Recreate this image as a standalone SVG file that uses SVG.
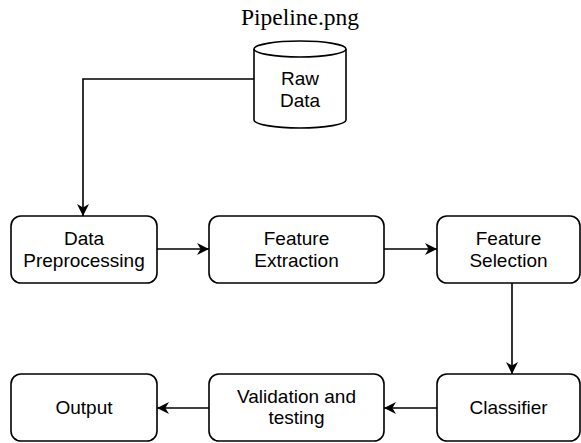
<svg xmlns="http://www.w3.org/2000/svg" width="581" height="443" viewBox="0 0 581 443">
  <style>
    .box { fill: #ffffff; stroke: #000000; stroke-width: 1.6; }
    .lbl { font-family: "Liberation Sans", Arial, sans-serif; font-size: 19px; fill: #000000; text-anchor: middle; }
    .title { font-family: "Liberation Serif", "Times New Roman", serif; font-size: 23.5px; fill: #000000; text-anchor: middle; }
    .edge { fill: none; stroke: #000000; stroke-width: 1.6; marker-end: url(#arrow); }
  </style>
  <defs>
    <marker id="arrow" viewBox="0 0 10 10" refX="10" refY="5" markerWidth="12" markerHeight="12" markerUnits="userSpaceOnUse" orient="auto">
      <path d="M0,0 L10,5 L0,10 L3,5 Z" fill="#000000"/>
    </marker>
  </defs>
  <rect width="581" height="443" fill="#ffffff"/>

  <text class="title" x="300" y="25">Pipeline.png</text>

  <g id="raw-data">
    <path class="box" d="M254,49 A46,8 0 0 1 346,49 L346,120 A46,8 0 0 1 254,120 Z"/>
    <path class="box" style="fill:none" d="M254,49 A46,8 0 0 0 346,49"/>
    <text class="lbl" x="300" y="85">Raw</text>
    <text class="lbl" x="300" y="107">Data</text>
  </g>

  <g id="data-preprocessing">
    <rect class="box" x="11" y="216" width="146" height="67" rx="10"/>
    <text class="lbl" x="84" y="245">Data</text>
    <text class="lbl" x="84" y="267">Preprocessing</text>
  </g>

  <g id="feature-extraction">
    <rect class="box" x="209" y="216" width="175" height="67" rx="10"/>
    <text class="lbl" x="296.5" y="245">Feature</text>
    <text class="lbl" x="296.5" y="267">Extraction</text>
  </g>

  <g id="feature-selection">
    <rect class="box" x="437" y="216" width="143" height="67" rx="10"/>
    <text class="lbl" x="508.5" y="245">Feature</text>
    <text class="lbl" x="508.5" y="267">Selection</text>
  </g>

  <g id="classifier">
    <rect class="box" x="437" y="374" width="143" height="67" rx="10"/>
    <text class="lbl" x="508.5" y="414">Classifier</text>
  </g>

  <g id="validation">
    <rect class="box" x="209" y="374" width="175" height="67" rx="10"/>
    <text class="lbl" x="296.5" y="403">Validation and</text>
    <text class="lbl" x="296.5" y="424">testing</text>
  </g>

  <g id="output">
    <rect class="box" x="11" y="374" width="146" height="67" rx="10"/>
    <text class="lbl" x="84" y="414">Output</text>
  </g>

  <g id="connectors">
    <path class="edge" d="M254,79 L83,79 L83,216"/>
    <path class="edge" d="M157,249 L209,249"/>
    <path class="edge" d="M384,249 L437,249"/>
    <path class="edge" d="M512,283 L512,374"/>
    <path class="edge" d="M437,408 L384,408"/>
    <path class="edge" d="M209,408 L157,408"/>
  </g>
</svg>
